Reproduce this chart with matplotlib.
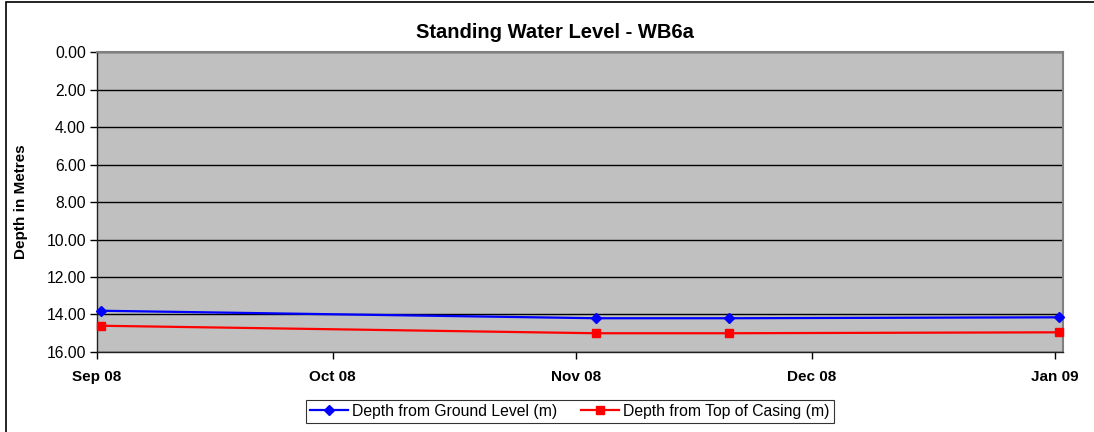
import datetime as dt
import matplotlib
matplotlib.use("Agg")
import matplotlib.pyplot as plt
import matplotlib.dates as mdates
from matplotlib.patches import Rectangle

# Fechas de lectura y profundidades (m)
fechas = [dt.datetime(2008, 9, 1), dt.datetime(2008, 11, 3),
          dt.datetime(2008, 11, 20), dt.datetime(2009, 1, 1)]
nivel_suelo = [13.80, 14.20, 14.20, 14.15]
nivel_casing = [14.60, 15.00, 15.00, 14.95]

plt.rcParams["font.family"] = ["Liberation Sans", "DejaVu Sans"]

fig = plt.figure(figsize=(10.94, 4.32), dpi=100)
ax = fig.add_axes([0.0887, 0.1852, 0.8830, 0.6944])

# Excel centra cada dia en su intervalo
x = [f + dt.timedelta(hours=12) for f in fechas]

ax.plot(x, nivel_suelo, color="#0000FF", linewidth=1.6, marker="D",
        markersize=5, label="Depth from Ground Level (m)", clip_on=False, zorder=3)
ax.plot(x, nivel_casing, color="#FF0000", linewidth=1.6, marker="s",
        markersize=5.5, label="Depth from Top of Casing (m)", clip_on=False, zorder=3)

# Formato de ejes
ax.set_facecolor("#C0C0C0")
ax.set_ylim(16, 0)
ax.set_yticks(range(0, 17, 2))
ax.yaxis.set_major_formatter(matplotlib.ticker.FormatStrFormatter("%.2f"))
ax.set_xlim(dt.datetime(2008, 9, 1), dt.datetime(2009, 1, 2))
ax.xaxis.set_major_locator(mdates.MonthLocator())
ax.xaxis.set_major_formatter(mdates.DateFormatter("%b %y"))
ax.grid(axis="y", color="black", linewidth=1.0)
ax.set_axisbelow(True)

for lado in ["top", "right"]:
    ax.spines[lado].set_color("#808080")
    ax.spines[lado].set_linewidth(1.5)
for lado in ["left", "bottom"]:
    ax.spines[lado].set_color("#202020")
    ax.spines[lado].set_linewidth(1.0)

ax.tick_params(axis="y", direction="out", length=5, width=1, labelsize=11.3, pad=3)
ax.tick_params(axis="x", direction="out", length=5, width=1, labelsize=11, pad=8)
for t in ax.get_xticklabels():
    t.set_fontweight("bold")

fig.text(0.507, 0.925, "Standing Water Level - WB6a", fontsize=14.5,
         fontweight="bold", ha="center", va="center")
ax.set_ylabel("Depth in Metres", fontsize=11, fontweight="bold", labelpad=13)

leg = fig.legend(loc="lower center", bbox_to_anchor=(0.521, 0.003), ncol=2,
                 fontsize=11.3, frameon=True, fancybox=False, borderpad=0.25,
                 handlelength=2.4, columnspacing=1.5, handletextpad=0.3)
leg.get_frame().set_edgecolor("black")
leg.get_frame().set_linewidth(0.8)

# Marco del grafico
fig.patches.append(Rectangle((6 / 1094, -0.1), 1.2, 1.1 - 2.5 / 432,
                             transform=fig.transFigure, fill=False,
                             edgecolor="black", linewidth=1.2))

fig.savefig("out.png", dpi=100)
